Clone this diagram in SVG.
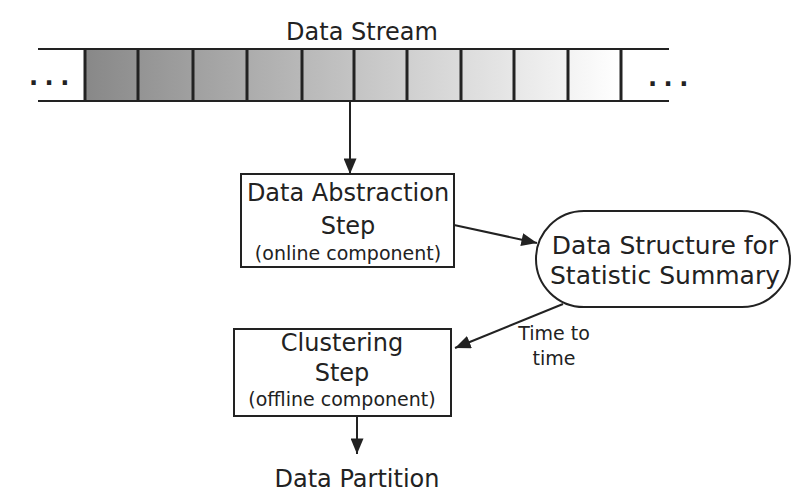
<svg xmlns="http://www.w3.org/2000/svg" width="800" height="503" viewBox="0 0 800 503">
<style>
text{font-family:"DejaVu Sans","Liberation Sans",sans-serif;fill:#222}
.big{font-size:24px}
.small{font-size:19px}
.line{stroke:#222;stroke-width:2;fill:none}
.sep{stroke:#222;stroke-width:3}
.box{fill:#fff;stroke:#222;stroke-width:2}
.dots{font-size:24px;font-weight:bold;letter-spacing:6.5px}
</style>
<defs>
<linearGradient id="g" gradientUnits="userSpaceOnUse" x1="85" y1="0" x2="621" y2="0">
<stop offset="0" stop-color="#888"/>
<stop offset="1" stop-color="#fff"/>
</linearGradient>
<marker id="a" viewBox="0 0 12 10" refX="12" refY="5" markerWidth="16" markerHeight="13" markerUnits="userSpaceOnUse" orient="auto">
<path d="M0,0 L12,5 L0,10 z" fill="#222"/>
</marker>
</defs>
<g id="stream">
<text class="big" x="362" y="40" text-anchor="middle">Data Stream</text>
<rect x="85" y="49" width="536" height="52" fill="url(#g)"/>
<line class="line" x1="38" y1="49" x2="669" y2="49"/>
<line class="line" x1="38" y1="101" x2="669" y2="101"/>
<g class="sep">
<line x1="85" y1="49" x2="85" y2="101"/>
<line x1="138" y1="49" x2="138" y2="101"/>
<line x1="193" y1="49" x2="193" y2="101"/>
<line x1="247" y1="49" x2="247" y2="101"/>
<line x1="302" y1="49" x2="302" y2="101"/>
<line x1="354" y1="49" x2="354" y2="101"/>
<line x1="407" y1="49" x2="407" y2="101"/>
<line x1="461" y1="49" x2="461" y2="101"/>
<line x1="514" y1="49" x2="514" y2="101"/>
<line x1="568" y1="49" x2="568" y2="101"/>
<line x1="621" y1="49" x2="621" y2="101"/>
</g>
<text class="dots" x="29" y="85">...</text>
<text class="dots" x="648" y="86">...</text>
</g>
<g id="abstraction">
<rect class="box" x="241" y="174" width="213" height="93"/>
<text class="big" x="348" y="201" text-anchor="middle">Data Abstraction</text>
<text class="big" x="348" y="234" text-anchor="middle">Step</text>
<text class="small" x="348" y="260" text-anchor="middle">(online component)</text>
</g>
<g id="summary">
<rect class="box" x="536" y="211" width="254" height="96" rx="48" ry="48"/>
<text x="665" y="254" text-anchor="middle" style="font-size:25px">Data Structure for</text>
<text x="665" y="284" text-anchor="middle" style="font-size:25px">Statistic Summary</text>
</g>
<g id="clustering">
<rect class="box" x="234" y="329" width="217" height="87"/>
<text class="big" x="342" y="351" text-anchor="middle">Clustering</text>
<text class="big" x="342" y="381" text-anchor="middle">Step</text>
<text class="small" x="342" y="406" text-anchor="middle">(offline component)</text>
</g>
<g id="partition">
<text class="big" x="357" y="487" text-anchor="middle">Data Partition</text>
</g>
<g id="connectors">
<line class="line" x1="350" y1="101" x2="350" y2="174" marker-end="url(#a)"/>
<line class="line" x1="454" y1="225" x2="537" y2="243" marker-end="url(#a)"/>
<line class="line" x1="563" y1="304" x2="455" y2="348" marker-end="url(#a)"/>
<line class="line" x1="357" y1="416" x2="357" y2="454" marker-end="url(#a)"/>
<text class="small" x="554" y="340" text-anchor="middle">Time to</text>
<text class="small" x="554" y="365" text-anchor="middle">time</text>
</g>
</svg>
